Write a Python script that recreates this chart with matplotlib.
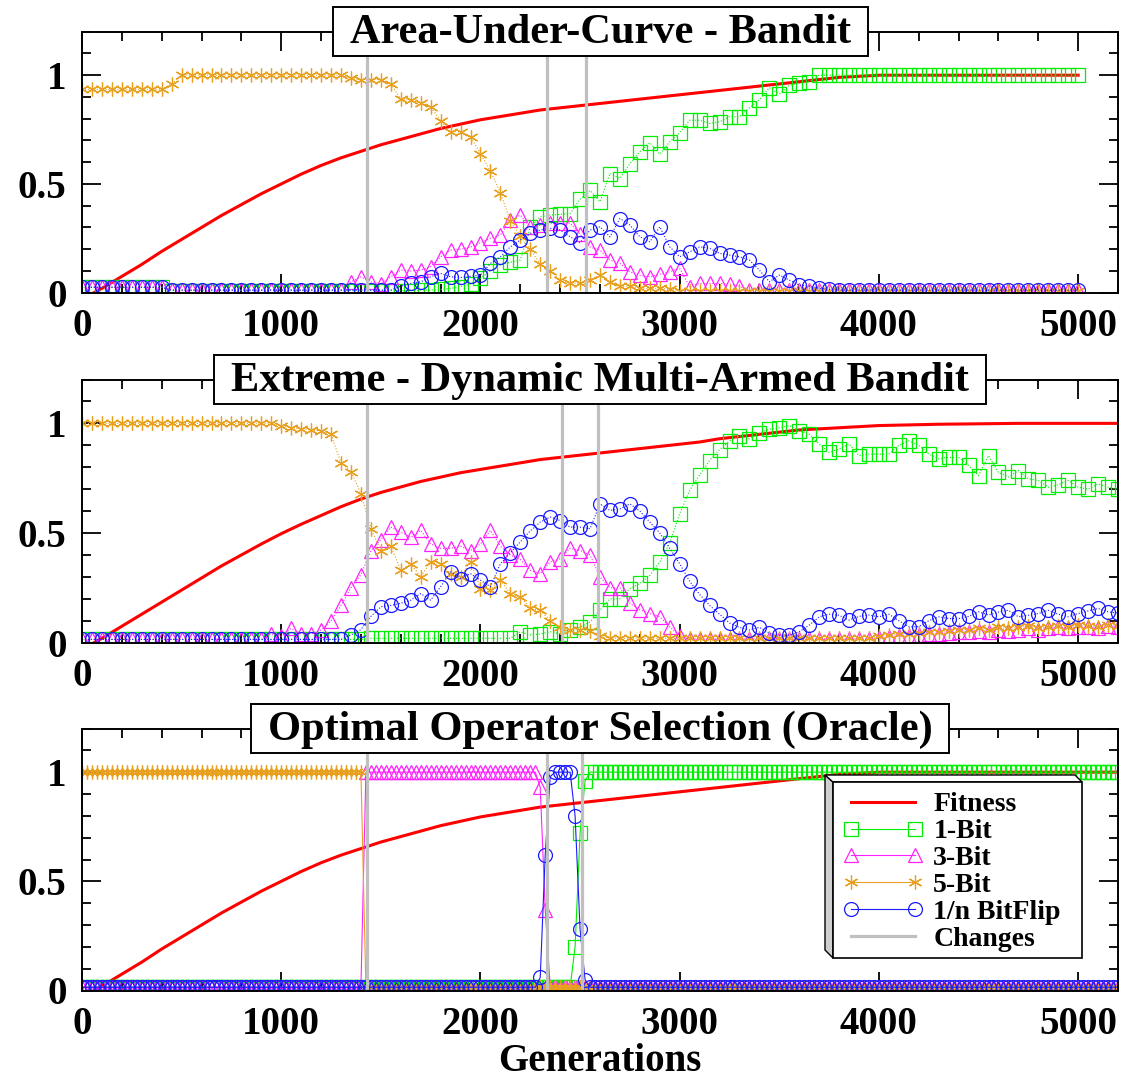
import numpy as np
import matplotlib.pyplot as plt
from matplotlib.patches import Polygon, Rectangle
from matplotlib.transforms import ScaledTranslation
from matplotlib.ticker import MultipleLocator, FuncFormatter

plt.rcParams['font.family'] = ['Liberation Serif', 'DejaVu Serif']
plt.rcParams['font.weight'] = 'bold'
plt.rcParams['axes.labelweight'] = 'bold'

# generaciones
gen_auc = np.arange(0, 5001, 50)
gen_dmab = np.arange(0, 5201, 50)
gen_oracle = np.arange(0, 5201, 25)
fit_gen_auc = [60] + list(range(100, 5001, 100))
fit_gen_long = [60] + list(range(100, 5201, 100))

# --- Area-Under-Curve - Bandit ---
fit_auc = [0.0, 0.02, 0.075, 0.13, 0.19, 0.245, 0.30, 0.355, 0.405, 0.455, 0.50,
           0.545, 0.585, 0.62, 0.65, 0.68, 0.705, 0.73, 0.755, 0.775, 0.795,
           0.81, 0.825, 0.84, 0.85, 0.86, 0.87, 0.88, 0.89, 0.90, 0.91,
           0.92, 0.93, 0.94, 0.95, 0.96, 0.97, 0.98, 0.99, 0.995, 1.0] + [1.0] * 10
b1_auc = ([0.025] * 9 + [0.01] * 25 +
          [0.012, 0.012, 0.015, 0.02, 0.028, 0.04, 0.066, 0.1, 0.127, 0.14,
           0.15, 0.30, 0.35, 0.357, 0.36, 0.364, 0.43, 0.47, 0.418, 0.548,
           0.525, 0.594, 0.648, 0.69, 0.637, 0.694, 0.735, 0.793, 0.793, 0.778,
           0.786, 0.809, 0.809, 0.85, 0.888, 0.943, 0.913, 0.954, 0.962, 0.97, 1.0] +
          [1.0] * 26)
b3_auc = ([0.025] * 9 + [0.012] * 18 +
          [0.05, 0.073, 0.05, 0.04, 0.073, 0.104, 0.1, 0.104, 0.12, 0.165,
           0.196, 0.2, 0.21, 0.23, 0.25, 0.265, 0.334, 0.357, 0.303, 0.31,
           0.32, 0.32, 0.32, 0.27, 0.21, 0.196, 0.15, 0.135, 0.096, 0.08,
           0.073, 0.085, 0.096, 0.112, 0.028, 0.043, 0.043, 0.043, 0.04, 0.03] +
          [0.012] * 34)
b5_auc = ([0.935] * 9 + [0.96] + [1.0] * 17 +
          [0.985, 0.98, 0.98, 0.98, 0.96, 0.89, 0.885, 0.87, 0.855, 0.79,
           0.74, 0.74, 0.717, 0.64, 0.56, 0.46, 0.33, 0.26, 0.2, 0.13,
           0.1, 0.058, 0.045, 0.043, 0.06, 0.08, 0.05, 0.03, 0.03, 0.02,
           0.02, 0.02, 0.015] +
          [0.01] * 41)
bf_auc = ([0.025] * 9 + [0.012] * 23 +
          [0.03, 0.043, 0.05, 0.073, 0.089, 0.073, 0.07, 0.075, 0.081, 0.135,
           0.165, 0.211, 0.242, 0.273, 0.288, 0.296, 0.288, 0.257, 0.23, 0.288,
           0.303, 0.257, 0.341, 0.311, 0.257, 0.234, 0.303, 0.211, 0.165, 0.188,
           0.211, 0.204, 0.181, 0.173, 0.165, 0.15, 0.104, 0.05, 0.081, 0.058,
           0.035, 0.031, 0.02, 0.015] +
          [0.012] * 25)
changes_auc = [1430, 2333, 2528]

# --- Extreme - Dynamic Multi-Armed Bandit ---
fit_dmab = [0.0, 0.02, 0.075, 0.13, 0.185, 0.24, 0.295, 0.35, 0.40, 0.45, 0.497,
            0.54, 0.58, 0.62, 0.655, 0.685, 0.71, 0.735, 0.755, 0.775, 0.79,
            0.805, 0.82, 0.835, 0.845, 0.855, 0.865, 0.875, 0.885, 0.895, 0.905,
            0.915, 0.93, 0.94, 0.95, 0.96, 0.97, 0.975, 0.98, 0.985, 0.99,
            0.992, 0.994, 0.996, 0.997, 0.998, 0.999, 1.0, 1.0, 1.0, 1.0, 1.0, 1.0]
b1_dmab = ([0.015] * 29 + [0.02] * 15 +
           [0.05, 0.035, 0.04, 0.05, 0.04, 0.058, 0.07, 0.095, 0.148, 0.2,
            0.2, 0.247, 0.27, 0.307, 0.368, 0.455, 0.588, 0.694, 0.765, 0.83,
            0.88, 0.92, 0.944, 0.93, 0.955, 0.974, 0.98, 0.99, 0.967, 0.95,
            0.906, 0.868, 0.883, 0.906, 0.853, 0.86, 0.86, 0.86, 0.9, 0.92,
            0.9, 0.86, 0.838, 0.845, 0.845, 0.808, 0.762, 0.853, 0.777, 0.755,
            0.785, 0.747, 0.74, 0.709, 0.72, 0.74, 0.709, 0.7, 0.724, 0.709, 0.7])
b3_dmab = ([0.015] * 19 +
           [0.04, 0.03, 0.065, 0.04, 0.04, 0.058, 0.1, 0.17, 0.25, 0.31,
            0.42, 0.47, 0.527, 0.505, 0.48, 0.512, 0.45, 0.43, 0.43, 0.44,
            0.42, 0.45, 0.512, 0.44, 0.4, 0.38, 0.33, 0.315, 0.368, 0.383,
            0.43, 0.42, 0.4, 0.3, 0.25, 0.25, 0.18, 0.15, 0.133, 0.118,
            0.073, 0.03] +
           [0.015] * 19 +
           [0.02, 0.025, 0.03, 0.03, 0.035, 0.04, 0.04, 0.045, 0.05, 0.05,
            0.055, 0.05, 0.06, 0.055, 0.06, 0.065, 0.06, 0.065, 0.07, 0.065,
            0.07, 0.07, 0.065, 0.075, 0.07])
b5_dmab = ([1.0] * 20 +
           [0.99, 0.98, 0.975, 0.97, 0.965, 0.95, 0.82, 0.78, 0.68, 0.52,
            0.42, 0.44, 0.33, 0.36, 0.3, 0.37, 0.36, 0.315, 0.3, 0.37,
            0.247, 0.24, 0.285, 0.224, 0.21, 0.156, 0.148, 0.1, 0.073, 0.06,
            0.06, 0.055, 0.03] +
           [0.02] * 27 +
           [0.03, 0.035, 0.04, 0.04, 0.045, 0.05, 0.05, 0.055, 0.06, 0.06,
            0.065, 0.06, 0.07, 0.065, 0.07, 0.075, 0.065, 0.07, 0.075, 0.07,
            0.08, 0.075, 0.07, 0.08, 0.075])
bf_dmab = ([0.015] * 27 +
           [0.035, 0.06, 0.12, 0.164, 0.17, 0.18, 0.194, 0.224, 0.194, 0.255,
            0.323, 0.292, 0.315, 0.285, 0.255, 0.36, 0.41, 0.46, 0.51, 0.55,
            0.573, 0.557, 0.527, 0.527, 0.52, 0.633, 0.603, 0.61, 0.633, 0.6,
            0.55, 0.5, 0.43, 0.36, 0.28, 0.22, 0.17, 0.13, 0.09, 0.07,
            0.058, 0.07, 0.042, 0.035, 0.035, 0.05, 0.08, 0.118, 0.13, 0.125,
            0.103, 0.12, 0.126, 0.118, 0.13, 0.1, 0.073, 0.073, 0.1, 0.118,
            0.11, 0.11, 0.12, 0.141, 0.126, 0.14, 0.148, 0.118, 0.125, 0.133,
            0.148, 0.13, 0.118, 0.133, 0.145, 0.156, 0.141, 0.135])
changes_dmab = [1430, 2410, 2592]

# --- Optimal Operator Selection (Oracle) ---
fit_oracle = fit_auc[:41] + [1.0] * 12
b1_oracle = [0.015] * 99 + [0.2, 0.72, 0.96] + [1.0] * 107
b3_oracle = [0.015] * 57 + [1.0] * 35 + [0.93, 0.37] + [0.015] * 115
b5_oracle = [1.0] * 57 + [0.015] * 152
bf_oracle = [0.015] * 92 + [0.06, 0.62, 0.98] + [1.0] * 4 + [0.80, 0.28, 0.05] + [0.015] * 107
changes_oracle = [1428, 2333, 2510]

paneles = [
    ("Area-Under-Curve - Bandit", gen_auc, fit_gen_auc, fit_auc,
     b1_auc, b3_auc, b5_auc, bf_auc, changes_auc, ':'),
    ("Extreme - Dynamic Multi-Armed Bandit", gen_dmab, fit_gen_long, fit_dmab,
     b1_dmab, b3_dmab, b5_dmab, bf_dmab, changes_dmab, ':'),
    ("Optimal Operator Selection (Oracle)", gen_oracle, fit_gen_long, fit_oracle,
     b1_oracle, b3_oracle, b5_oracle, bf_oracle, changes_oracle, '-'),
]

W, H = 1122, 1079
fig = plt.figure(figsize=(W / 100, H / 100), dpi=100)

# posicion de cada panel en pixeles (arriba, abajo)
cajas = [(31.7, 292.7), (379.5, 642.7), (728.5, 990.5)]
izq, der = 82, 1118

c_green, c_mag, c_orange, c_blue = '#00ee00', '#ff22ff', '#e8a020', '#1a1aff'

def px(x, y):
    return (x / W, 1 - y / H)

ejes = []
titulos = []
for k, (titulo, g, fg, fit, b1, b3, b5, bf, ch, ls) in enumerate(paneles):
    top, bot = cajas[k]
    estilo = dict(lw=0.8, ls=ls, ms=10, mew=0.9, mfc='none')
    ax = fig.add_axes([izq / W, 1 - bot / H, (der - izq) / W, (bot - top) / H])
    l_fit, = ax.plot(fg, fit, color='#ff0000', lw=2.2, label='Fitness')
    l1, = ax.plot(g, b1, color=c_green, marker='s', label='1-Bit', **estilo)
    l3, = ax.plot(g, b3, color=c_mag, marker='^', label='3-Bit', **estilo)
    l5, = ax.plot(g, b5, color=c_orange, marker=(6, 2, 0), label='5-Bit', **estilo)
    lf, = ax.plot(g, bf, color=c_blue, marker='o', label='1/n BitFlip', **estilo)
    for c in ch:
        lch = ax.axvline(c, color='#c0c0c0', lw=2.3, label='Changes')
    ax.set_xlim(0, 5200)
    ax.set_ylim(0, 1.2)
    ax.xaxis.set_major_locator(MultipleLocator(1000))
    ax.xaxis.set_minor_locator(MultipleLocator(200))
    ax.yaxis.set_major_locator(MultipleLocator(0.5))
    ax.yaxis.set_minor_locator(MultipleLocator(0.1))
    ax.yaxis.set_major_formatter(FuncFormatter(lambda v, p: f'{v:g}'))
    ax.tick_params(which='both', direction='in', top=True, right=True,
                   labelsize=28, width=1.3)
    ax.tick_params(which='major', length=13.5)
    ax.tick_params(which='minor', length=6.5)
    ax.tick_params(axis='x', pad=11)
    ax.tick_params(axis='y', pad=11)
    for s in ax.spines.values():
        s.set_linewidth(1.4)
    # titulo: linea base 11 px bajo el borde superior
    t = ax.text(0.5, 1.0, titulo, ha='center', va='baseline', fontsize=30.5,
                zorder=11, clip_on=False,
                transform=ax.transAxes + ScaledTranslation(0, -0.11, fig.dpi_scale_trans))
    titulos.append((t, top))
    ejes.append(ax)

ejes[2].set_xlabel('Generations', fontsize=28, fontweight='bold', labelpad=0)

# cajas de los titulos a partir del ancho del texto
fig.canvas.draw()
rend = fig.canvas.get_renderer()
for t, top in titulos:
    bb = t.get_window_extent(rend)
    ancho = bb.width + 34
    cx = (bb.x0 + bb.x1) / 2
    x0, y0 = px(cx - ancho / 2, top + 24.5)
    caja = Rectangle((x0, y0), ancho / W, 49 / H, fc='white', ec='black', lw=1.4,
                     transform=fig.transFigure, zorder=3)
    fig.add_artist(caja)
    t.remove()
    fig.text(cx / W, 1 - (top + 11) / H, t.get_text(), ha='center', va='baseline',
             fontsize=30.5, zorder=4)

# caja 3D de la leyenda
cara_izq = Polygon([px(825, 775), px(833, 782), px(833, 958), px(825, 950)],
                   closed=True, fc='#cfcfcf', ec='black', lw=1.0,
                   transform=fig.transFigure, zorder=2)
cara_sup = Polygon([px(825, 775), px(1075, 775), px(1082, 782), px(833, 782)],
                   closed=True, fc='white', ec='black', lw=1.0,
                   transform=fig.transFigure, zorder=2)
frente = Polygon([px(833, 782), px(1082, 782), px(1082, 958), px(833, 958)],
                 closed=True, fc='white', ec='black', lw=1.2,
                 transform=fig.transFigure, zorder=2)
for p in (cara_izq, cara_sup, frente):
    fig.add_artist(p)

leg = fig.legend([l_fit, l1, l3, l5, lf, lch],
                 ['Fitness', '1-Bit', '3-Bit', '5-Bit', '1/n BitFlip', 'Changes'],
                 loc='upper left', bbox_to_anchor=px(843, 792), frameon=False,
                 numpoints=2, fontsize=20, handlelength=2.9, handletextpad=0.35,
                 labelspacing=0.05, borderpad=0, borderaxespad=0)
leg.set_zorder(5)

fig.savefig('out.png', dpi=100)
